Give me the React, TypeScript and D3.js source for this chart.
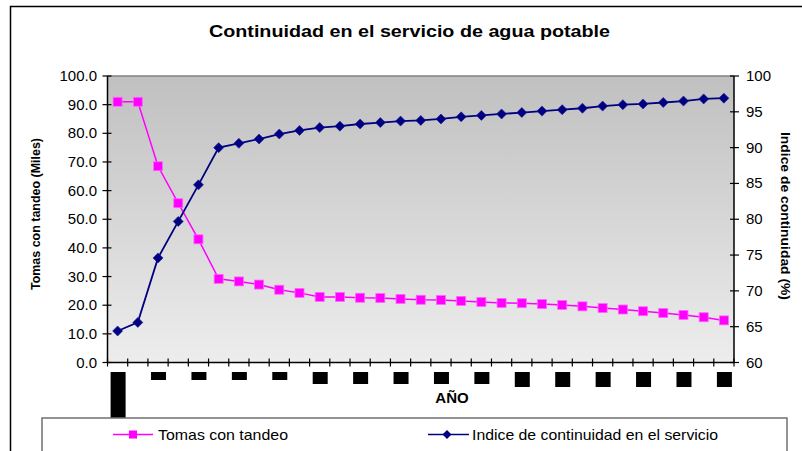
import React from 'react';
import * as d3 from 'd3';

const categories = ["1","2","3","4","5","6","7","8","9","10","11","12","13","14","15","16","17","18","19","20","21","22","23","24","25","26","27","28","29","30","31"];
const tomasConTandeo = [91.0, 91.0, 68.5, 55.6, 43.0, 29.2, 28.3, 27.2, 25.4, 24.3, 22.9, 22.9, 22.6, 22.5, 22.2, 21.9, 21.8, 21.5, 21.1, 20.8, 20.7, 20.4, 20.1, 19.6, 19.0, 18.5, 17.9, 17.3, 16.6, 15.8, 14.7];
const indiceContinuidad = [64.4, 65.6, 74.6, 79.7, 84.8, 90.0, 90.6, 91.2, 91.9, 92.4, 92.8, 93.0, 93.3, 93.5, 93.7, 93.8, 94.0, 94.3, 94.5, 94.7, 94.9, 95.1, 95.3, 95.5, 95.8, 96.0, 96.1, 96.3, 96.5, 96.8, 96.9];
const leftTicks = [0, 10, 20, 30, 40, 50, 60, 70, 80, 90, 100];
const rightTicks = [60, 65, 70, 75, 80, 85, 90, 95, 100];
const labelledCategories = ["1","3","5","7","9","11","13","15","17","19","21","23","25","27","29","31"];
const labelBlockHeights = [46, 8, 8, 8, 8, 12, 12, 12, 12, 12, 15, 15, 15, 15, 15, 15];

const title = "Continuidad en el servicio de agua potable";
const leftTitle = "Tomas con tandeo (Miles)";
const rightTitle = "Indice de continuidad (%)";
const xTitle = "AÑO";
const seriesNames = ["Tomas con tandeo", "Indice de continuidad en el servicio"];

const W = 802, H = 451;
const PL = 107.5, PR = 734, PT = 76, PB = 362.5;
const FONT = "'Liberation Sans', Arial, Helvetica, sans-serif";
const MAG = "#FF00FF", NAVY = "#000080";

export default function App() {
  const x = d3.scaleBand<string>().domain(categories).range([PL, PR]).padding(0);
  const yL = d3.scaleLinear().domain([0, 100]).range([PB, PT]);
  const yR = d3.scaleLinear().domain([60, 100]).range([PB, PT]);
  const cx = (c: string) => (x(c) as number) + x.bandwidth() / 2;

  const lineL = d3.line<number>().x((_, i) => cx(categories[i])).y(d => yL(d));
  const lineR = d3.line<number>().x((_, i) => cx(categories[i])).y(d => yR(d));
  const diamond = (s: number) => `M0,${-s}L${s},0L0,${s}L${-s},0Z`;

  const boundaries = categories.map(c => x(c) as number).concat([PR]);

  return (
    <svg width={W} height={H} style={{ position: 'absolute', left: 0, top: 0, background: '#fff' }} fontFamily={FONT}>
      <defs>
        <linearGradient id="bg" x1="0" y1="0" x2="0" y2="1">
          <stop offset="0" stopColor="#c0c0c0" />
          <stop offset="1" stopColor="#ededed" />
        </linearGradient>
      </defs>
      {/* outer chart border */}
      <rect x={10.5} y={6.5} width={1000} height={1000} fill="#fff" stroke="#000" strokeWidth={1.5} />
      {/* title */}
      <text x={409.5} y={37} textAnchor="middle" fontWeight="bold" fontSize={17} textLength={401} lengthAdjust="spacingAndGlyphs">{title}</text>

      {/* plot area */}
      <rect x={PL} y={PT} width={PR - PL} height={PB - PT} fill="url(#bg)" />
      <line x1={PL} x2={PR} y1={PT} y2={PT} stroke="#808080" strokeWidth={1.5} />

      {/* left axis */}
      <line x1={PL} x2={PL} y1={PT} y2={PB} stroke="#000" strokeWidth={1.5} />
      {leftTicks.map(t => (
        <g key={'l' + t}>
          <line x1={PL - 5} x2={PL + 4} y1={yL(t)} y2={yL(t)} stroke="#000" strokeWidth={1.2} />
          <text x={97} y={yL(t) + 5} textAnchor="end" fontSize={15}>{t.toFixed(1)}</text>
        </g>
      ))}
      {/* right axis */}
      <line x1={PR} x2={PR} y1={PT} y2={PB} stroke="#000" strokeWidth={1.5} />
      {rightTicks.map(t => (
        <g key={'r' + t}>
          <line x1={PR - 4} x2={PR + 5} y1={yR(t)} y2={yR(t)} stroke="#000" strokeWidth={1.2} />
          <text x={746} y={yR(t) + 5} textAnchor="start" fontSize={15}>{t}</text>
        </g>
      ))}
      {/* bottom axis */}
      <line x1={PL} x2={PR} y1={PB} y2={PB} stroke="#000" strokeWidth={1.5} />
      {boundaries.map((b, i) => (
        <line key={'b' + i} x1={b} x2={b} y1={PB - 4} y2={PB + 4} stroke="#000" strokeWidth={1.2} />
      ))}
      {labelledCategories.map((c, i) => (
        <rect key={'lb' + c} x={cx(c) - 7.5 + 0.5} y={372} width={15} height={labelBlockHeights[i]} fill="#000" />
      ))}

      {/* axis titles */}
      <text transform={`translate(40,214) rotate(-90)`} textAnchor="middle" fontWeight="bold" fontSize={13} textLength={152} lengthAdjust="spacingAndGlyphs">{leftTitle}</text>
      <text transform={`translate(781,216) rotate(90)`} textAnchor="middle" fontWeight="bold" fontSize={13} textLength={168} lengthAdjust="spacingAndGlyphs">{rightTitle}</text>
      <text x={452} y={403} textAnchor="middle" fontWeight="bold" fontSize={15}>{xTitle}</text>

      {/* series */}
      <path d={lineL(tomasConTandeo) || ''} fill="none" stroke={MAG} strokeWidth={1.5} />
      {tomasConTandeo.map((v, i) => (
        <rect key={'m' + i} x={cx(categories[i]) - 4.5} y={yL(v) - 4.5} width={9} height={9} fill={MAG} stroke="#ff66ff" strokeWidth={0.8} />
      ))}
      <path d={lineR(indiceContinuidad) || ''} fill="none" stroke={NAVY} strokeWidth={1.8} />
      {indiceContinuidad.map((v, i) => (
        <path key={'d' + i} d={diamond(5)} transform={`translate(${cx(categories[i])},${yR(v)})`} fill={NAVY} stroke="#1a1a99" strokeWidth={0.6} />
      ))}

      {/* legend */}
      <rect x={42} y={418} width={745} height={60} fill="#fff" stroke="#707070" strokeWidth={1.5} />
      <line x1={113} x2={153} y1={434.5} y2={434.5} stroke={MAG} strokeWidth={1.5} />
      <rect x={129} y={430.5} width={8} height={8} fill={MAG} />
      <text x={158} y={440} fontSize={15} textLength={130} lengthAdjust="spacingAndGlyphs">{seriesNames[0]}</text>
      <line x1={428} x2={469} y1={434.5} y2={434.5} stroke={NAVY} strokeWidth={1.5} />
      <path d={diamond(4.5)} transform="translate(447,434.5)" fill={NAVY} />
      <text x={472} y={440} fontSize={15} textLength={246} lengthAdjust="spacingAndGlyphs">{seriesNames[1]}</text>
    </svg>
  );
}
